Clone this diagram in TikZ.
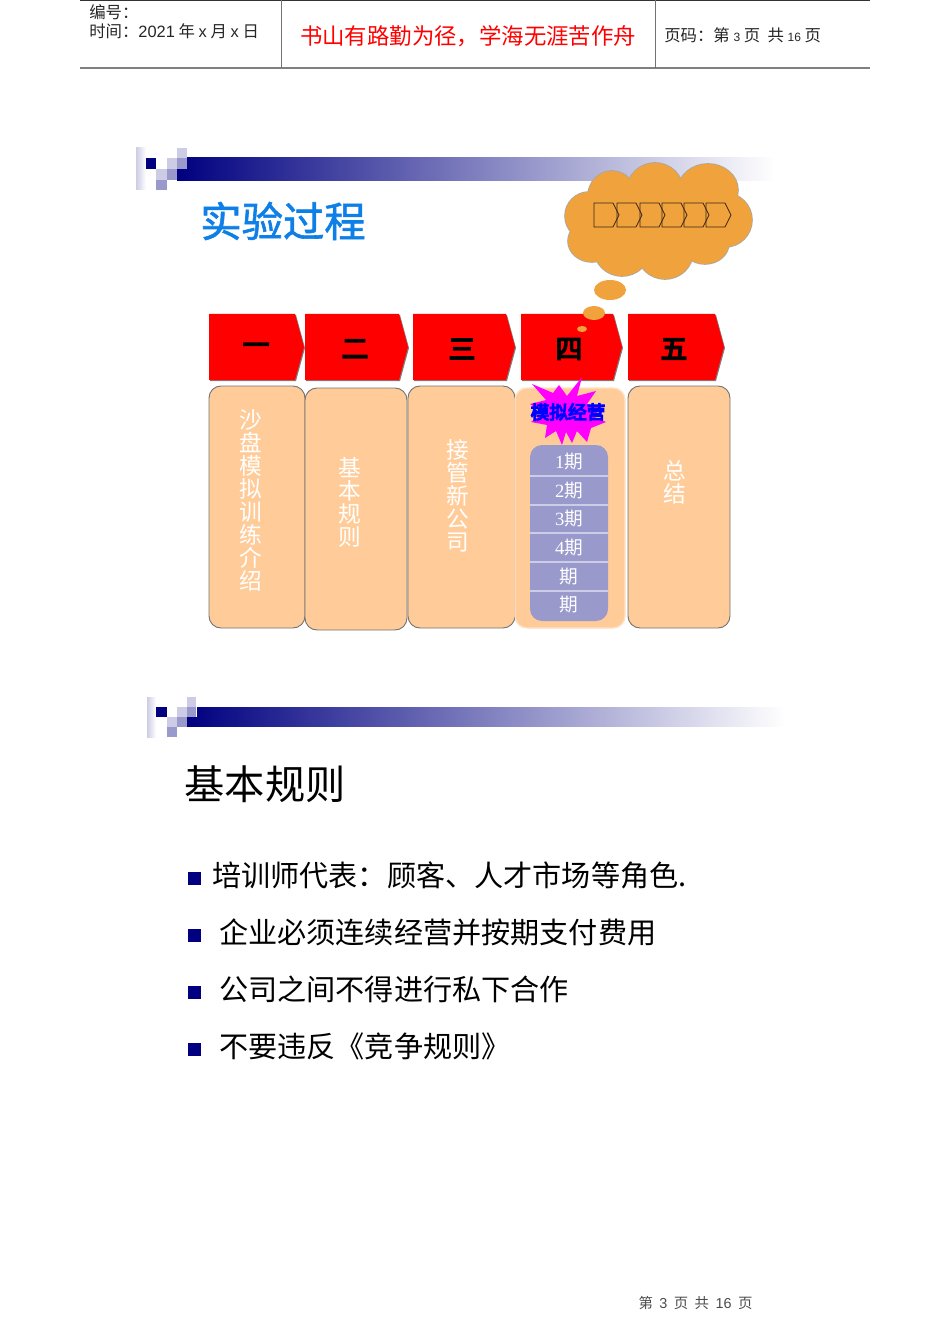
\documentclass[tikz,border=0pt]{standalone}
\usepackage{fontspec}
\setmainfont{Liberation Serif}
\setsansfont{Liberation Sans}
\newfontfamily\cjk{Noto Sans CJK SC}
\newfontfamily\cjkbold[FakeBold=1.5]{Noto Sans CJK SC}
\newfontfamily\cjkheavy[FakeBold=6]{Noto Sans CJK SC}
\definecolor{navyblue}{HTML}{000080}
\definecolor{cloudorange}{HTML}{F0A23C}
\definecolor{boxpeach}{HTML}{FFCC99}
\definecolor{periodblue}{HTML}{9999CC}
\definecolor{lightblue}{HTML}{CCCCE6}
\definecolor{titleblue}{HTML}{0F7FE8}
\definecolor{starpink}{HTML}{FF00FF}
\tikzset{
  headtext/.style={inner sep=0pt, anchor=west, text=black!85, font=\cjk\fontsize{12.3}{14}\selectfont},
  rulemark/.style={fill=navyblue, inner sep=0pt, minimum size=9.75pt},
  ruletext/.style={inner sep=0pt, anchor=west, font=\cjk\fontsize{21.85}{26}\selectfont},
  stagebox/.style={draw=black!55, fill=boxpeach, rounded corners=9pt, line width=0.7pt},
  stagetext/.style={inner sep=0pt, align=center, text=white, font=\cjk\fontsize{17}{17.25}\selectfont},
  periodtext/.style={inner sep=0pt, text=white, font=\fontsize{14}{16}\selectfont}
}
\newcommand{\ok}[1]{{\cjk #1}}
\begin{document}
\begin{tikzpicture}[x=0.75pt, y=-0.75pt]
\useasboundingbox (0,0) rectangle (950,1344);
% Cabecera
\draw[black!80, line width=0.8pt] (80,0.5) -- (870,0.5);
\draw[black!50, line width=1pt] (80,68) -- (870,68);
\draw[black!55, line width=0.7pt] (281,0) -- (281,68);
\draw[black!55, line width=0.7pt] (655,0) -- (655,68);
\node[headtext] (headno) at (89,12) {编号：};
\node[headtext] (headdate) at (89,31) {时间：{\sffamily 2021} 年 {\sffamily x} 月 {\sffamily x} 日};
\node[inner sep=0pt, text=red, font=\cjk\fontsize{16.8}{18}\selectfont] (headmotto) at (468,36) {书山有路勤为径，学海无涯苦作舟};
\node[headtext] (headpage) at (664,35) {页码：第 {\sffamily\fontsize{9}{10}\selectfont 3} 页\ \ 共 {\sffamily\fontsize{9}{10}\selectfont 16} 页};
% Primera barra
\shade[left color=navyblue, right color=white] (177,158) rectangle (775,181);
\fill[white] (177,158) rectangle (187,169);
\shade[left color=periodblue!50, right color=white] (136,148) rectangle (146,190);
\fill[navyblue] (146,158) rectangle (156,169);
\fill[lightblue] (177,148) rectangle (187,158);
\fill[lightblue] (167,158) rectangle (177,169);
\fill[periodblue] (177,158) rectangle (187,169);
\fill[lightblue] (156,169) rectangle (167,180);
\fill[periodblue] (167,169) rectangle (177,180);
\fill[periodblue] (156,180) rectangle (167,190);
\node[inner sep=0pt, text=titleblue, font=\cjkbold\fontsize{31}{34}\selectfont] (slidetitle) at (283,221) {实验过程};
% Nube
\foreach \cx/\cy/\rx/\ry in {589/216/24/24, 612/196/24/25, 655/190/28/27, 708/190/30/26, 725/220/27/27, 705/243/24/21, 665/252/28/27, 622/249/28/27, 592/241/24/21, 660/220/55/35}
  \draw[black!35, line width=1.2pt] (\cx,\cy) ellipse ({\rx} and {\ry});
\foreach \cx/\cy/\rx/\ry in {589/216/24/24, 612/196/24/25, 655/190/28/27, 708/190/30/26, 725/220/27/27, 705/243/24/21, 665/252/28/27, 622/249/28/27, 592/241/24/21, 660/220/55/35}
  \fill[cloudorange] (\cx,\cy) ellipse ({\rx} and {\ry});
\foreach \x in {594,617,640,662,684,706}
  \draw[black!70!brown, line width=0.6pt] (\x,203) -- (\x+19,203) -- (\x+25,215) -- (\x+19,227) -- (\x,227) -- cycle;
% Flechas rojas
\foreach \xa/\xb/\lbl/\cx/\nm in {209/304/一/256/stepa, 305/408/二/355/stepb, 413/515/三/462/stepc, 521/622/四/569/stepd, 628/724/五/674/stepe}{
  \fill[black!50] (\xa+1,315) -- (\xb-8,315) -- (\xb+1,348) -- (\xb-8,381) -- (\xa+1,381) -- cycle;
  \fill[red] (\xa,314) -- (\xb-9,314) -- (\xb,347) -- (\xb-9,380) -- (\xa,380) -- cycle;
  \node[inner sep=0pt, font=\cjkheavy\fontsize{20}{22}\selectfont] (\nm) at (\cx,349) {\lbl};
}
\fill[cloudorange] (610,290) ellipse (16 and 10);
\fill[cloudorange] (594,313) ellipse (11 and 7);
\fill[cloudorange] (582,329) ellipse (5 and 3);
% Cajas
\draw[stagebox] (209,386) rectangle (305,628);
\draw[stagebox] (305,388) rectangle (407,630);
\draw[stagebox] (408,386) rectangle (515,628);
\draw[stagebox] (628,386) rectangle (730,628);
\draw[draw=boxpeach!60!white, fill=boxpeach, rounded corners=9pt, line width=1pt] (515,388) rectangle (625,628);
\node[stagetext] (textintro) at (251,500) {沙\\盘\\模\\拟\\训\\练\\介\\绍};
\node[stagetext] (textrules) at (350,502) {基\\本\\规\\则};
\node[stagetext] (textfirm) at (458,496) {接\\管\\新\\公\\司};
\node[stagetext] (textsummary) at (675,482) {总\\结};
% Estrella
\fill[starpink] (582,377) -- (577,396) -- (596,391) -- (587,404) -- (603,408) -- (592,416) -- (606,422) -- (591,428) -- (587,442) -- (577,431) -- (572,443) -- (566,432) -- (562,445) -- (556,431) -- (545,438) -- (547,425) -- (531,422) -- (543,413) -- (530,404) -- (546,400) -- (532,384) -- (553,393) -- (559,385) -- (567,396) -- cycle;
\node[inner sep=0pt, text=blue, font=\cjkheavy\fontsize{14}{16}\selectfont] (simlabel) at (568,412) {模拟经营};
% Periodos
\fill[periodblue, rounded corners=9pt] (530,445) rectangle (608,621);
\foreach \yy in {476,505,533,562,591}
  \draw[lightblue, line width=1pt] (530,\yy) -- (608,\yy);
\node[periodtext] (perioda) at (569,462) {1\ok{期}};
\node[periodtext] (periodb) at (569,491) {2\ok{期}};
\node[periodtext] (periodc) at (569,519) {3\ok{期}};
\node[periodtext] (periodd) at (569,548) {4\ok{期}};
\node[periodtext] (periode) at (569,577) {\ok{期}};
\node[periodtext] (periodf) at (569,605) {\ok{期}};
% Segunda barra
\shade[left color=navyblue, right color=white] (187,707) rectangle (785,726);
\fill[white] (187,707) rectangle (197,717);
\shade[left color=periodblue!50, right color=white] (147,697) rectangle (156,737);
\fill[navyblue] (156,707) rectangle (167,717);
\fill[lightblue] (187,697) rectangle (196,707);
\fill[lightblue] (177,707) rectangle (187,717);
\fill[periodblue] (187,707) rectangle (196,717);
\fill[lightblue] (167,717) rectangle (177,727);
\fill[periodblue] (177,717) rectangle (187,727);
\fill[periodblue] (167,727) rectangle (177,737);
\node[inner sep=0pt, font=\cjk\fontsize{30.2}{32}\selectfont] (rulestitle) at (265,784) {基本规则};
% Reglas
\node[rulemark] (marka) at (194.5,878) {};
\node[rulemark] (markb) at (194.5,935) {};
\node[rulemark] (markc) at (194.5,992) {};
\node[rulemark] (markd) at (194.5,1049) {};
\node[ruletext] (rulea) at (212,875) {培训师代表：顾客、人才市场等角色.};
\node[ruletext] (ruleb) at (219,932) {企业必须连续经营并按期支付费用};
\node[ruletext] (rulec) at (219,989) {公司之间不得进行私下合作};
\node[ruletext] (ruled) at (219,1046) {不要违反《竞争规则》};
% Pie
\node[inner sep=0pt, text=black!70, font=\cjk\fontsize{10.8}{12}\selectfont] (footpage) at (695.5,1303) {第\ \ {\sffamily 3}\ \ 页\ \ 共\ \ {\sffamily 16}\ \ 页};
\end{tikzpicture}
\end{document}
